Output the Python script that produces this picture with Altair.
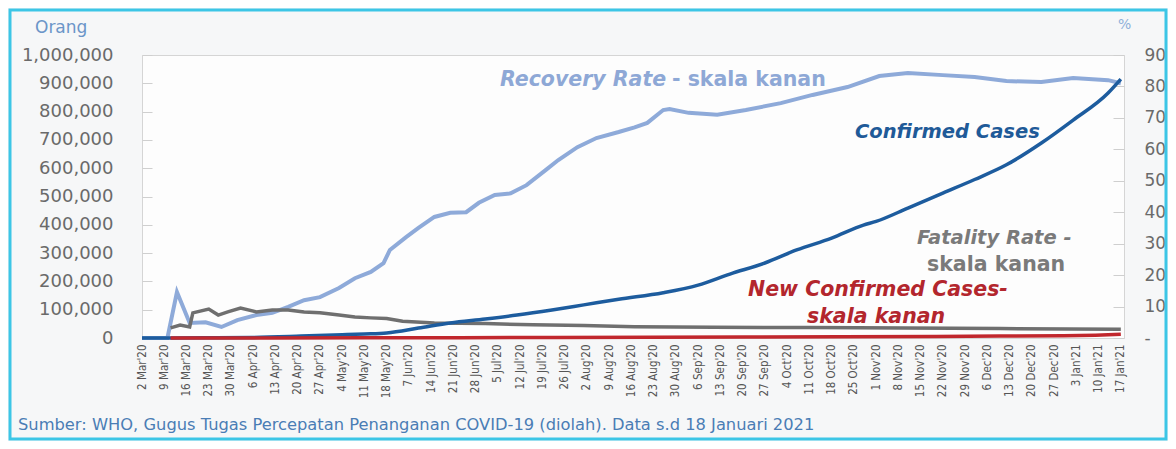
import json
import altair as alt
import pandas as pd

# ---------------- data ----------------
week_labels = ["2 Mar'20", "9 Mar'20", "16 Mar'20", "23 Mar'20", "30 Mar'20",
               "6 Apr'20", "13 Apr'20", "20 Apr'20", "27 Apr'20", "4 May'20",
               "11 May'20", "18 May'20", "7 Jun'20", "14 Jun'20", "21 Jun'20",
               "28 Jun'20", "5 Jul'20", "12 Jul'20", "19 Jul'20", "26 Jul'20",
               "2 Aug'20", "9 Aug'20", "16 Aug'20", "23 Aug'20", "30 Aug'20",
               "6 Sep'20", "13 Sep'20", "20 Sep'20", "27 Sep'20", "4 Oct'20",
               "11 Oct'20", "18 Oct'20", "25 Oct'20", "1 Nov'20", "8 Nov'20",
               "15 Nov'20", "22 Nov'20", "29 Nov'20", "6 Dec'20", "13 Dec'20",
               "20 Dec'20", "27 Dec'20", "3 Jan'21", "10 Jan'21", "17 Jan'21"]

conf_day = [0, 20, 35, 50, 63, 70, 77, 87, 97, 108, 118, 129, 139, 150, 164,
            175, 185, 196, 206, 217, 227, 231, 241, 252, 262, 272, 283, 293, 304, 308]
conf_val = [0, 700, 2000, 6700, 11500, 14300, 18000, 35000, 53000, 67000, 81000,
            99000, 117000, 137000, 160000, 187000, 226000, 265000, 311000, 353000,
            399000, 412000, 459000, 512000, 560000, 612000, 689000, 770000, 866000, 915000]

rec_day = [0, 8, 11, 15, 20, 25, 30, 36, 41, 46, 51, 56, 62, 67, 72, 76, 78, 83, 87,
           92, 97, 102, 106, 111, 116, 121, 127, 131, 137, 143, 150, 155, 159, 164,
           166, 172, 181, 190, 201, 211, 222, 232, 241, 252, 262, 272, 283, 293, 304, 308]
rec_val = [0, 0, 14.6, 4.8, 5.0, 3.5, 5.7, 7.3, 8.0, 9.9, 12.0, 13.0, 15.9, 19.0,
           21.0, 23.8, 28.0, 32.0, 35.0, 38.5, 39.8, 40.0, 43.0, 45.5, 46.0, 48.6,
           53.4, 56.6, 60.7, 63.6, 65.5, 67.0, 68.4, 72.5, 72.8, 71.6, 71.0, 72.5,
           74.7, 77.3, 79.8, 83.3, 84.3, 83.6, 83.0, 81.7, 81.4, 82.7, 82.0, 81.0]

fat_day = [9, 12, 15, 16, 21, 24, 27, 31, 36, 41, 46, 51, 56, 62, 67, 72, 77, 82,
           92, 108, 123, 139, 155, 180, 210, 240, 270, 308]
fat_val = [3.2, 4.1, 3.5, 8.0, 9.2, 7.3, 8.3, 9.5, 8.3, 8.9, 8.9, 8.3, 8.0, 7.3,
           6.7, 6.4, 6.2, 5.3, 4.8, 4.6, 4.2, 4.0, 3.6, 3.4, 3.3, 3.2, 3.0, 2.8]

new_day = [9, 40, 70, 100, 130, 160, 190, 220, 250, 270, 290, 300, 308]
new_val = [0.02, 0.03, 0.05, 0.1, 0.15, 0.22, 0.33, 0.4, 0.45, 0.6, 0.7, 0.9, 1.2]

left_ticks = list(range(0, 1000001, 100000))
right_ticks = list(range(0, 91, 10))

texts = {
    "rec": "Recovery Rate",
    "rec2": "- skala kanan",
    "conf": "Confirmed Cases",
    "fat": "Fatality Rate -",
    "fat2": "skala kanan",
    "new": "New Confirmed Cases-",
    "new2": "skala kanan",
    "left_title": "Orang",
    "right_title": "%",
    "source": "Sumber: WHO, Gugus Tugas Percepatan Penanganan COVID-19 (diolah). Data s.d 18 Januari 2021",
}

# ---------------- layout ----------------
W, H = 982, 283
PAD = {"left": 134, "top": 47, "right": 44, "bottom": 103}
AXFONT = "DejaVu Sans"

x_enc = alt.X(
    "day:Q",
    scale=alt.Scale(domain=[0, 309], nice=False, zero=False),
    axis=alt.Axis(
        values=list(range(0, 309, 7)),
        labelExpr="%s[round(datum.value / 7)]" % json.dumps(week_labels),
        labelAngle=270, labelFont="DejaVu Sans Condensed, Liberation Sans, sans-serif",
        labelFontSize=11.5,
        labelColor="#555555", ticks=False, domain=False, grid=False, title=None,
        labelPadding=6, labelOverlap=False,
    ),
)

right_scale = alt.Scale(domain=[0, 90], nice=False, zero=True)

conf = alt.Chart(pd.DataFrame({"day": conf_day, "value": conf_val})).mark_line(
    color="#1d5c9e", strokeWidth=3.5, interpolate="monotone"
).encode(
    x=x_enc,
    y=alt.Y("value:Q", scale=alt.Scale(domain=[0, 1000000], nice=False),
            axis=alt.Axis(orient="left", values=left_ticks, format=",d", offset=-10,
                          tickSize=10, tickColor="#cfcfcf", domain=False, grid=False,
                          labelPadding=29, labelFont=AXFONT, labelFontSize=18,
                          labelColor="#6a6a6a", title=None)),
)

rec = alt.Chart(pd.DataFrame({"day": rec_day, "value": rec_val})).mark_line(
    color="#8eaad9", strokeWidth=4
).encode(
    x=x_enc,
    y=alt.Y("value:Q", scale=right_scale,
            axis=alt.Axis(orient="right", values=right_ticks,
                          labelExpr='datum.value == 0 ? "-" : datum.label',
                          offset=-11, tickSize=11, tickColor="#cfcfcf", domain=False,
                          grid=False, labelPadding=20, labelFont=AXFONT, labelFontSize=17,
                          labelColor="#6a6a6a", labelAlign="left", title=None)),
)

fat = alt.Chart(pd.DataFrame({"day": fat_day, "value": fat_val})).mark_line(
    color="#6f6f6f", strokeWidth=3.5
).encode(x=x_enc, y=alt.Y("value:Q", scale=right_scale, axis=None))

new = alt.Chart(pd.DataFrame({"day": new_day, "value": new_val})).mark_line(
    color="#c1272d", strokeWidth=3.5
).encode(x=x_enc, y=alt.Y("value:Q", scale=right_scale, axis=None))


def label(key, x, y, color, size=20.5, italic=True, weight="bold"):
    return alt.Chart(pd.DataFrame({"t": [texts[key]]})).mark_text(
        align="left", baseline="middle", font="DejaVu Sans", fontSize=size,
        fontStyle="italic" if italic else "normal", fontWeight=weight, color=color,
    ).encode(x=alt.value(x), y=alt.value(y), text="t:N")


border = alt.Chart(pd.DataFrame({"t": [""]})).mark_rect(
    filled=False, stroke="#3cc6e6", strokeWidth=3
).encode(x=alt.value(-132), x2=alt.value(W + 42), y=alt.value(-45), y2=alt.value(H + 101))

labels = [
    label("rec", 358, 25, "#8ea8d6"),
    label("rec2", 530, 25, "#8ea8d6", italic=False),
    label("conf", 713, 77, "#1f5a98", size=19.5),
    label("fat", 775, 183, "#7a7a7a", size=19.5),
    label("fat2", 785, 210, "#7a7a7a", size=20.5, italic=False),
    label("new", 606, 235, "#b3262d"),
    label("new2", 665, 262, "#b3262d"),
    label("left_title", -107, -27, "#6b95c8", size=17, weight="normal", italic=False),
    label("right_title", 976, -30, "#8fb0d8", size=14, weight="normal", italic=False),
    label("source", -124, 370, "#4a7db5", size=16.3, weight="normal", italic=False),
]

chart = alt.layer(rec, fat, conf, new, border, *labels).resolve_scale(
    y="independent"
).properties(
    width=W, height=H, padding=PAD, autosize=alt.AutoSizeParams(type="none"),
    background="#f6f7f8",
).configure_view(stroke="#d5d5d5", fill="#fdfdfd")

chart.save("out.html", embed_options={"renderer": "svg", "actions": False})
